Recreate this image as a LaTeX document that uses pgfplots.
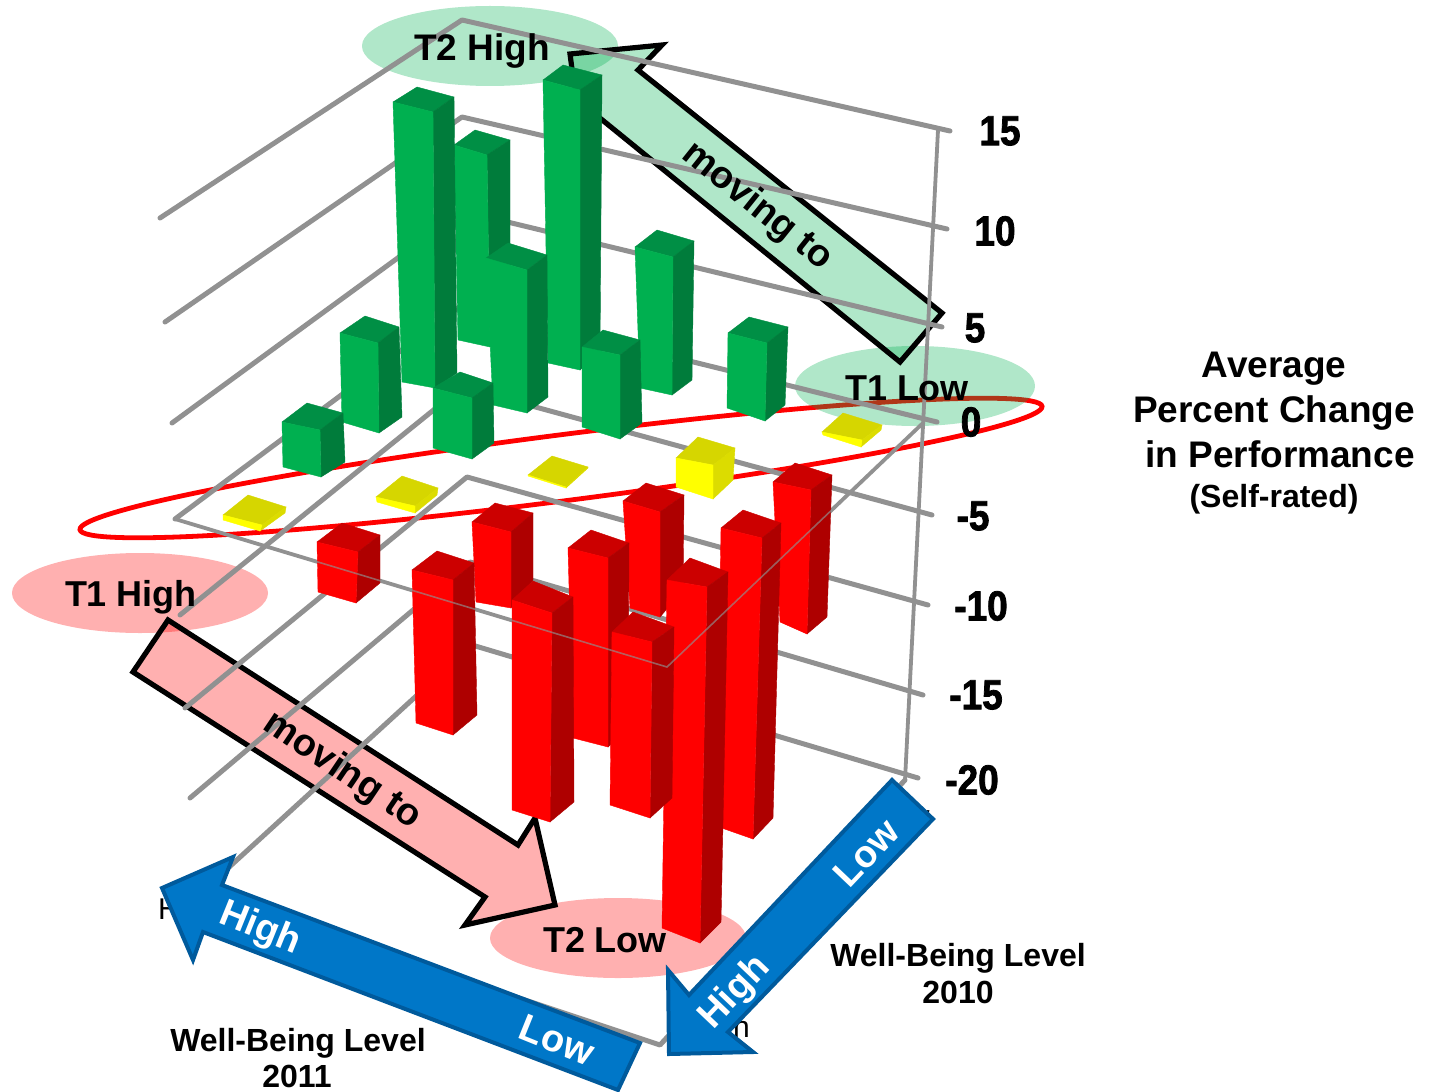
\documentclass[border=0pt]{standalone}
\usepackage{pgfplots}
\pgfplotsset{compat=1.18}
\usepackage{fontspec}
\setmainfont{Liberation Sans}
\newfontfamily\heavy[FakeBold=1.8,FakeStretch=0.88]{Liberation Sans Bold}
\usetikzlibrary{shapes.geometric}

% bar faces: F front, S side, T top
\definecolor{gF}{HTML}{00B050}\definecolor{gS}{HTML}{007C3B}\definecolor{gT}{HTML}{008F45}
\definecolor{rF}{HTML}{FF0000}\definecolor{rS}{HTML}{AE0000}\definecolor{rT}{HTML}{CC0000}
\definecolor{yF}{HTML}{FFFF00}\definecolor{yS}{HTML}{DCDC00}\definecolor{yT}{HTML}{D6D600}
\definecolor{gridgray}{HTML}{919191}
\definecolor{axisblue}{HTML}{0077C8}\definecolor{axisblueline}{HTML}{005A9C}
\definecolor{softgreen}{HTML}{00B050}

% #1 colour prefix; #2..#5 top corners left, front, right, back; #6..#8 bottom left, front, right
\newcommand{\Bar}[8]{%
  \addplot[fill=#1T,draw=#1T,line width=0.2pt] coordinates {#2#3#4#5} -- cycle;
  \addplot[fill=#1S,draw=#1S,line width=0.2pt] coordinates {#3#4#8#7} -- cycle;
  \addplot[fill=#1F,draw=#1F,line width=0.2pt] coordinates {#2#3#7#6} -- cycle;
}
\newcommand{\Lab}[4][0]{\node[inner sep=0pt,anchor=center,rotate=#1,font=#4] at (axis cs:#2) {#3};}
\newcommand{\sz}[1]{\fontsize{#1}{#1}\selectfont}

\begin{document}
\begin{tikzpicture}
\begin{axis}[
  width=716.5pt,height=545.5pt,scale only axis,
  xmin=0,xmax=1433,ymin=0,ymax=1091,y dir=reverse,
  hide axis,clip=false,
  gridline/.style={draw=gridgray,line width=2.5pt,line join=round,line cap=round},
  softarrow/.style={draw=black,line width=2.6pt,line join=miter,fill=#1,fill opacity=0.31},
  bluearrow/.style={draw=axisblueline,line width=2pt,line join=miter,fill=axisblue},
]
% category labels that sit behind the blue arrows
\Lab{189,912}{High}{\sz{15}}
\Lab{719,1030}{High}{\sz{15}}
\Lab{902,816}{Low}{\sz{15}}

% band around the neutral cells, then the corner ellipses and the two bold arrows
\node[ellipse,draw=red,line width=2.4pt,inner sep=0pt,minimum width=485pt,minimum height=33pt,rotate=7.3] at (axis cs:561,468) {};
\node[ellipse,fill=softgreen,fill opacity=0.31,inner sep=0pt,minimum width=128pt,minimum height=40pt] at (axis cs:490,46) {};
\node[ellipse,fill=softgreen,fill opacity=0.31,inner sep=0pt,minimum width=120pt,minimum height=40pt] at (axis cs:915,386) {};
\node[ellipse,fill=red,fill opacity=0.31,inner sep=0pt,minimum width=128pt,minimum height=40pt] at (axis cs:140,593) {};
\node[ellipse,fill=red,fill opacity=0.31,inner sep=0pt,minimum width=128pt,minimum height=40pt] at (axis cs:618,938) {};

\addplot[softarrow=softgreen] coordinates {(570,54)(662,45)(638,70)(942,313)(900,362)(590,110)(582,145)} -- cycle;
\addplot[softarrow=red] coordinates {(168,620)(518,845)(535,818)(555,905)(465,925)(485,897)(133,672)} -- cycle;

% value levels on the walls and the plane at zero
\addplot[gridline] coordinates {(160,218)(462,20)(950,131)};
\addplot[gridline] coordinates {(165,322)(462,117)(947,229)};
\addplot[gridline] coordinates {(172,423)(462,211)(942,327)};
\addplot[gridline] coordinates {(175,519)(462,305)(937,422)};
\addplot[gridline] coordinates {(180,615)(462,387)(932,515)};
\addplot[gridline] coordinates {(185,708)(467,477)(928,605)};
\addplot[gridline] coordinates {(190,798)(470,562)(923,695)};
\addplot[gridline] coordinates {(215,880)(472,645)(918,778)};
\addplot[gridline] coordinates {(240,905)(660,1045)(905,780)};
\addplot[gridline,line width=1.9pt] coordinates {(175,519)(667,667)(923,423)};
\addplot[gridline,line width=1.9pt] coordinates {(938,130)(905,780)};

% moved up
\Bar{g}{(454,145)}{(487,155)}{(510,140)}{(475,130)}{(458,340)}{(490,347)}{(510,330)}
\Bar{g}{(543,80)}{(580,90)}{(602,75)}{(563,65)}{(548,363)}{(580,370)}{(600,353)}
\Bar{g}{(393,102)}{(433,112)}{(454,97)}{(417,87)}{(402,382)}{(435,388)}{(457,373)}
\Bar{g}{(486,258)}{(527,270)}{(547,255)}{(508,243)}{(493,405)}{(527,413)}{(548,397)}
\Bar{g}{(635,247)}{(673,257)}{(694,241)}{(657,230)}{(640,388)}{(672,395)}{(692,380)}
\Bar{g}{(582,347)}{(620,355)}{(640,340)}{(603,330)}{(582,427)}{(620,439)}{(642,423)}
\Bar{g}{(728,333)}{(767,343)}{(788,327)}{(749,317)}{(727,408)}{(765,421)}{(785,405)}
\Bar{g}{(340,333)}{(378,343)}{(399,327)}{(365,316)}{(342,422)}{(379,433)}{(402,417)}
\Bar{g}{(282,422)}{(320,430)}{(343,413)}{(307,403)}{(283,467)}{(321,477)}{(345,462)}
\Bar{g}{(433,388)}{(472,398)}{(493,383)}{(460,372)}{(433,448)}{(472,459)}{(494,443)}

% about unchanged
\Bar{y}{(223,515)}{(262,525)}{(286,507)}{(248,495)}{(223,520)}{(260,531)}{(285,513)}
\Bar{y}{(376,497)}{(415,506)}{(438,488)}{(402,476)}{(377,502)}{(415,513)}{(437,495)}
\Bar{y}{(528,475)}{(566,487)}{(588,467)}{(552,456)}{(528,476)}{(566,488)}{(588,468)}
\Bar{y}{(676,458)}{(713,465)}{(735,448)}{(698,437)}{(676,487)}{(713,499)}{(733,480)}
\Bar{y}{(822,432)}{(862,440)}{(882,425)}{(843,413)}{(823,435)}{(861,447)}{(881,430)}

% moved down
\Bar{r}{(317,542)}{(358,552)}{(380,535)}{(342,523)}{(318,592)}{(356,603)}{(380,583)}
\Bar{r}{(623,501)}{(660,512)}{(684,495)}{(646,483)}{(630,608)}{(660,617)}{(683,590)}
\Bar{r}{(773,482)}{(811,490)}{(832,475)}{(795,463)}{(780,622)}{(807,634)}{(827,617)}
\Bar{r}{(472,522)}{(511,532)}{(533,513)}{(495,503)}{(476,602)}{(511,608)}{(533,580)}
\Bar{r}{(568,548)}{(608,558)}{(629,543)}{(591,530)}{(573,738)}{(608,747)}{(628,730)}
\Bar{r}{(412,570)}{(453,580)}{(474,563)}{(437,551)}{(416,723)}{(453,735)}{(477,715)}
\Bar{r}{(512,600)}{(552,613)}{(573,597)}{(533,581)}{(512,810)}{(550,822)}{(574,802)}
\Bar{r}{(721,528)}{(762,538)}{(781,523)}{(743,510)}{(716,826)}{(753,839)}{(773,818)}
\Bar{r}{(667,580)}{(707,587)}{(728,572)}{(690,558)}{(662,928)}{(700,943)}{(721,922)}
\Bar{r}{(612,632)}{(652,642)}{(674,627)}{(633,612)}{(610,805)}{(650,818)}{(672,798)}

% front edge of the zero plane, showing across the bars
\addplot[draw=gridgray,draw opacity=0.65,line width=0.8pt] coordinates {(175,519)(667,667)(923,423)};

% blue direction arrows
\addplot[bluearrow] coordinates {(162,888)(233,857)(222,885)(640,1043)(618,1090)(203,932)(193,960)} -- cycle;
\addplot[bluearrow] coordinates {(892,780)(933,819)(728,1032)(753,1052)(669,1054)(668,970)(689,995)} -- cycle;

% text
\Lab{482,51}{T2 High}{\bfseries\sz{18.5}}
\Lab{907,388}{T1 Low}{\bfseries\sz{18}}
\Lab{131,597}{T1 High}{\bfseries\sz{18}}
\Lab{605,940}{T2 Low}{\bfseries\sz{18}}
\Lab[-38.7]{757,207}{moving to}{\bfseries\sz{19}}
\Lab[-34]{342,771}{moving to}{\bfseries\sz{19}}
\Lab[-22]{260,929}{\textcolor{white}{High}}{\bfseries\sz{19}}
\Lab[-22]{557,1040}{\textcolor{white}{Low}}{\bfseries\sz{19}}
\Lab[46.5]{735,993}{\textcolor{white}{High}}{\bfseries\sz{19}}
\Lab[46.5]{866,853}{\textcolor{white}{Low}}{\bfseries\sz{19}}
\Lab{1000,131}{15}{\heavy\sz{21}}
\Lab{995,231}{10}{\heavy\sz{21}}
\Lab{975,328}{5}{\heavy\sz{21}}
\Lab{971,422}{0}{\heavy\sz{21}}
\Lab{973,516}{-5}{\heavy\sz{21}}
\Lab{981,606}{-10}{\heavy\sz{21}}
\Lab{976,695}{-15}{\heavy\sz{21}}
\Lab{972,780}{-20}{\heavy\sz{21}}
\Lab{1274,369}{Average}{\bfseries\sz{18.5}}
\Lab{1274,413}{Percent Change}{\bfseries\sz{18.5}}
\Lab{1280,454}{in Performance}{\bfseries\sz{18.5}}
\Lab{1274,499}{(Self-rated)}{\bfseries\sz{16}}
\Lab{958,958}{Well-Being Level}{\bfseries\sz{16}}
\Lab{958,992}{2010}{\bfseries\sz{16}}
\Lab{298,1043}{Well-Being Level}{\bfseries\sz{16}}
\Lab{297,1076}{2011}{\bfseries\sz{16}}
\end{axis}
\pgfresetboundingbox
\path[use as bounding box] (0,0) rectangle (716.5pt,545.5pt);
\end{tikzpicture}
\end{document}
